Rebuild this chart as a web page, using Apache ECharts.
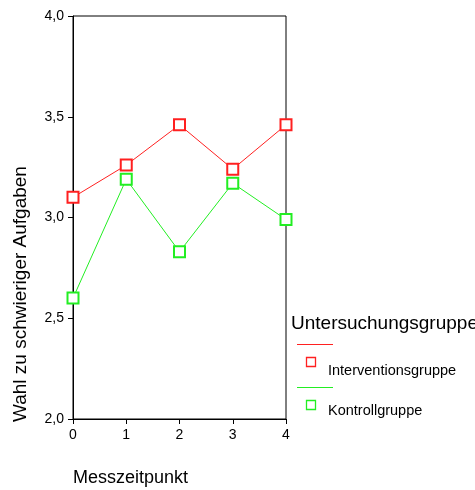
<!DOCTYPE html>
<html><head><meta charset="utf-8">
<script src="https://cdn.jsdelivr.net/npm/echarts@6/dist/echarts.min.js"></script>
<style>html,body{margin:0;padding:0;background:#fff}#c{width:475px;height:490px}</style>
</head><body><div id="c"></div>
<script>
const xTicks = [0, 1, 2, 3, 4];
const seriesNames = ['Interventionsgruppe', 'Kontrollgruppe'];
const interventionValues = [3.10, 3.26, 3.46, 3.24, 3.46];
const kontrollValues = [2.60, 3.19, 2.83, 3.17, 2.99];
const colors = ['#ff2020', '#22ee22'];
const legendTitle = 'Untersuchungsgruppe';
const xTitle = 'Messzeitpunkt';
const yTitle = 'Wahl zu schwieriger Aufgaben';

const chart = echarts.init(document.getElementById('c'), null, {renderer: 'canvas'});
const font = 'Arial, "Liberation Sans", sans-serif';
function mk(name, vals, color) {
  return {
    name: name, type: 'line',
    data: xTicks.map((x, i) => [x, vals[i]]),
    symbol: 'emptyRect', symbolSize: 11,
    lineStyle: {color: color, width: 1},
    itemStyle: {color: color, borderColor: color, borderWidth: 1},
    emphasis: {disabled: true},
    animation: false
  };
}
chart.setOption({
  animation: false,
  grid: {left: 73, right: 189, top: 16, bottom: 71, show: true, borderColor: '#000', borderWidth: 1, backgroundColor: 'transparent'},
  xAxis: {
    type: 'value', min: 0, max: 4, interval: 1,
    axisLine: {lineStyle: {color: '#000', width: 1}},
    axisTick: {show: true, length: 5, lineStyle: {color: '#000'}},
    axisLabel: {color: '#000', fontSize: 14, fontFamily: font, margin: 9},
    splitLine: {show: false}
  },
  yAxis: {
    type: 'value', min: 2, max: 4, interval: 0.5,
    axisLine: {show: true, lineStyle: {color: '#000', width: 1}},
    axisTick: {show: true, length: 5, lineStyle: {color: '#000'}},
    axisLabel: {color: '#000', fontSize: 14, fontFamily: font, margin: 9,
      formatter: v => v.toFixed(1).replace('.', ',')},
    splitLine: {show: false}
  },
  series: [mk(seriesNames[0], interventionValues, colors[0]), mk(seriesNames[1], kontrollValues, colors[1])],
  graphic: [
    {type: 'text', left: 73, top: 469, style: {text: xTitle, fontSize: 18, fontFamily: font, fill: '#000'}},
    {type: 'text', x: 11, y: 422, rotation: Math.PI / 2, style: {text: yTitle, fontSize: 19, fontFamily: font, fill: '#000', align: 'left', verticalAlign: 'top'},
      originX: 0, originY: 0},
    {type: 'text', left: 291, top: 314, style: {text: legendTitle, fontSize: 19, fontFamily: font, fill: '#000'}},
    {type: 'line', shape: {x1: 297, y1: 344.5, x2: 333, y2: 344.5}, style: {stroke: colors[0], lineWidth: 1}},
    {type: 'rect', shape: {x: 306.5, y: 357.5, width: 9, height: 9}, style: {stroke: colors[0], fill: 'transparent', lineWidth: 1.3}},
    {type: 'text', left: 328, top: 363, style: {text: seriesNames[0], fontSize: 14.5, fontFamily: font, fill: '#000'}},
    {type: 'line', shape: {x1: 297, y1: 387.5, x2: 333, y2: 387.5}, style: {stroke: colors[1], lineWidth: 1}},
    {type: 'rect', shape: {x: 306.5, y: 400.5, width: 9, height: 9}, style: {stroke: colors[1], fill: 'transparent', lineWidth: 1.3}},
    {type: 'text', left: 328, top: 403, style: {text: seriesNames[1], fontSize: 14.5, fontFamily: font, fill: '#000'}}
  ]
});
</script></body></html>
